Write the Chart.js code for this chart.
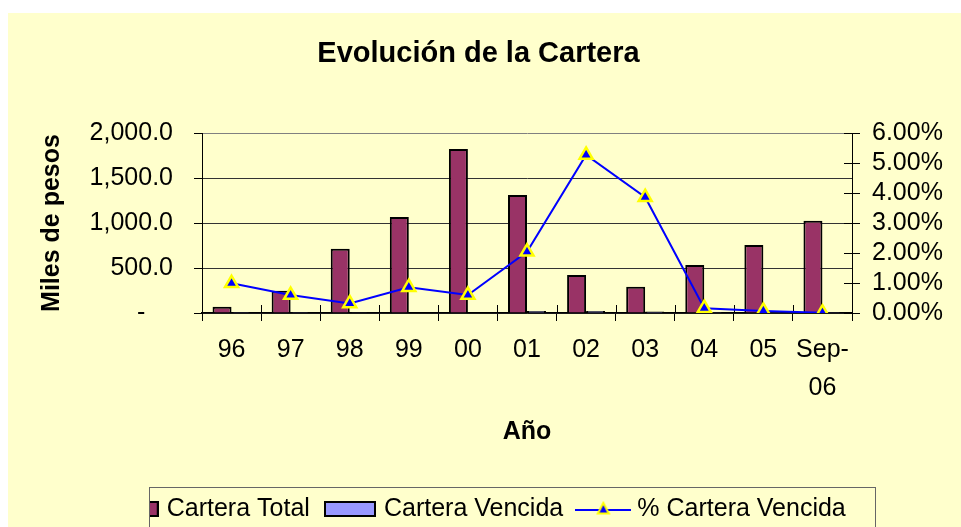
<!DOCTYPE html>
<html>
<head>
<meta charset="utf-8">
<script src="https://cdn.jsdelivr.net/npm/chart.js@4/dist/chart.umd.min.js"></script>
<style>
  html, body { margin: 0; padding: 0; background: #fff; }
  #wrap { position: absolute; left: 8px; top: 13px; width: 953px; height: 514px; background: #ffffcc; }
</style>
</head>
<body>
<div id="wrap"><canvas id="cartera-chart" width="953" height="514"></canvas></div>
<script>
const years = ["96", "97", "98", "99", "00", "01", "02", "03", "04", "05", ["Sep-", "06"]];
const carteraTotal = [70, 248, 714, 1067, 1822, 1311, 422, 292, 533, 756, 1026];
const carteraVencida = [1, 1, 2, 4, 4, 22, 22, 16, 1, 0.5, 0.1];
const pctVencida = [0.99, 0.6, 0.32, 0.86, 0.6, 2.04, 5.27, 3.86, 0.16, 0.07, 0.01];

const BG = "#ffffcc";
const FONT = '"Liberation Sans", Arial, sans-serif';

Chart.defaults.font.family = FONT;
Chart.defaults.color = "#000";

// little canvases used as legend swatches
const makeSwatch = (w, h, draw) => {
  const c = document.createElement("canvas");
  c.width = w;
  c.height = h;
  draw(c.getContext("2d"));
  return c;
};
const boxSwatch = (fill) =>
  makeSwatch(52, 16, (ctx) => {
    ctx.fillStyle = fill;
    ctx.fillRect(1, 1, 50, 14);
    ctx.strokeStyle = "#000";
    ctx.lineWidth = 2;
    ctx.strokeRect(1, 1, 50, 14);
  });
const lineSwatch = makeSwatch(56, 20, (ctx) => {
  ctx.strokeStyle = "#0000ff";
  ctx.lineWidth = 2;
  ctx.beginPath();
  ctx.moveTo(0, 11);
  ctx.lineTo(56, 11);
  ctx.stroke();
  ctx.beginPath();
  ctx.moveTo(28, 4);
  ctx.lineTo(33.5, 14.5);
  ctx.lineTo(22.5, 14.5);
  ctx.closePath();
  ctx.fillStyle = "#0000ff";
  ctx.fill();
  ctx.strokeStyle = "#ffff00";
  ctx.lineWidth = 2;
  ctx.stroke();
});

const excelLook = {
  id: "excelLook",
  afterLayout(chart) {
    chart.legend.top += 4.5;
    chart.legend.bottom += 4.5;
  },
  beforeDatasetsDraw(chart) {
    // tick marks that cross into the plot area
    const { ctx, chartArea } = chart;
    const y2 = chart.scales.y2;
    const catW = (chartArea.right - chartArea.left) / years.length;
    ctx.save();
    ctx.strokeStyle = "#000";
    ctx.lineWidth = 1;
    ctx.beginPath();
    for (let i = 0; i <= years.length; i++) {
      const x = Math.round(chartArea.left + i * catW) + 0.5;
      ctx.moveTo(x, chartArea.bottom - 8);
      ctx.lineTo(x, chartArea.bottom);
    }
    y2.ticks.forEach((t) => {
      const y = Math.round(y2.getPixelForValue(t.value)) + 0.5;
      ctx.moveTo(chartArea.right - 8, y);
      ctx.lineTo(chartArea.right, y);
    });
    ctx.stroke();
    ctx.restore();
  },
  afterDraw(chart) {
    const { ctx } = chart;
    ctx.save();
    // legend frame (first swatch is clipped by it)
    ctx.fillStyle = BG;
    ctx.fillRect(80, 475, 61.5, 39);
    ctx.strokeStyle = "#666";
    ctx.lineWidth = 1;
    ctx.strokeRect(141.5, 474.5, 726, 50);
    ctx.restore();
  },
};

new Chart(document.getElementById("cartera-chart"), {
  data: {
    labels: years,
    datasets: [
      {
        type: "line",
        label: "% Cartera Vencida",
        data: pctVencida,
        yAxisID: "y2",
        order: 0,
        borderColor: "#0000ff",
        borderWidth: 2,
        pointStyle: "triangle",
        pointRadius: 7.5,
        pointBackgroundColor: "#0000ff",
        pointBorderColor: "#ffff00",
        pointBorderWidth: 2.5,
        tension: 0,
      },
      {
        type: "bar",
        label: "Cartera Total",
        data: carteraTotal,
        yAxisID: "y",
        order: 1,
        backgroundColor: "#993366",
        borderColor: "#000",
        borderWidth: 2,
        categoryPercentage: 0.643,
        barPercentage: 1,
      },
      {
        type: "bar",
        label: "Cartera Vencida",
        data: carteraVencida,
        yAxisID: "y",
        order: 2,
        backgroundColor: "#9999ff",
        borderColor: "#000",
        borderWidth: 2,
        categoryPercentage: 0.643,
        barPercentage: 1,
      },
    ],
  },
  options: {
    responsive: false,
    animation: false,
    layout: { padding: { left: 0, right: 12, top: 0, bottom: 0 } },
    plugins: {
      tooltip: { enabled: false },
      title: {
        display: true,
        text: "Evolución de la Cartera",
        color: "#000",
        font: { size: 29, weight: "bold" },
        padding: { top: 24, bottom: 61.2 },
      },
      legend: {
        position: "bottom",
        labels: {
          usePointStyle: true,
          pointStyleWidth: 43,
          boxHeight: 25,
          padding: 18.6,
          color: "#000",
          font: { size: 25 },
          generateLabels: () => [
            { text: "Cartera Total", pointStyle: boxSwatch("#993366"), lineWidth: 0, datasetIndex: 1, hidden: false },
            { text: "Cartera Vencida", pointStyle: boxSwatch("#9999ff"), lineWidth: 0, datasetIndex: 2, hidden: false },
            { text: "% Cartera Vencida", pointStyle: lineSwatch, lineWidth: 0, datasetIndex: 0, hidden: false },
          ],
        },
      },
    },
    scales: {
      x: {
        offset: true,
        grid: { display: true, offset: true, drawOnChartArea: false, tickLength: 8, color: "#000" },
        border: { color: "#000", width: 1.5 },
        ticks: {
          color: "#000",
          font: { size: 25, lineHeight: 1.52 },
          padding: 10,
          maxRotation: 0,
          autoSkip: false,
        },
        title: {
          display: true,
          text: "Año",
          color: "#000",
          font: { size: 25, weight: "bold" },
          padding: { top: 0, bottom: 26 },
        },
        afterFit: (s) => {
          s.height = 514 - s.chart.legend.height - 300;
        },
      },
      y: {
        position: "left",
        min: 0,
        max: 2000,
        ticks: {
          stepSize: 500,
          autoSkip: false,
          padding: 21,
          color: "#000",
          font: { size: 25 },
          callback: (v) =>
            v === 0 ? "-    " : v.toLocaleString("en-US", { minimumFractionDigits: 1 }),
        },
        grid: {
          color: (c) => (c.tick && c.tick.value === 2000 ? "#808080" : "#333"),
          tickColor: "#000",
          tickLength: 8,
        },
        border: { color: "#000", width: 1 },
        title: {
          display: true,
          text: "Miles de pesos",
          color: "#000",
          font: { size: 25, weight: "bold" },
          padding: { top: 29, bottom: 0 },
        },
        afterFit: (s) => {
          s.width = 194;
        },
      },
      y2: {
        position: "right",
        min: 0,
        max: 6,
        ticks: {
          stepSize: 1,
          autoSkip: false,
          padding: 12,
          color: "#000",
          font: { size: 25 },
          callback: (v) => v.toFixed(2) + "%",
        },
        grid: { drawOnChartArea: false, tickLength: 8, color: "#000" },
        border: { color: "#000", width: 1 },
        afterFit: (s) => {
          s.width = 97;
        },
      },
    },
  },
  plugins: [excelLook],
});
</script>
</body>
</html>
